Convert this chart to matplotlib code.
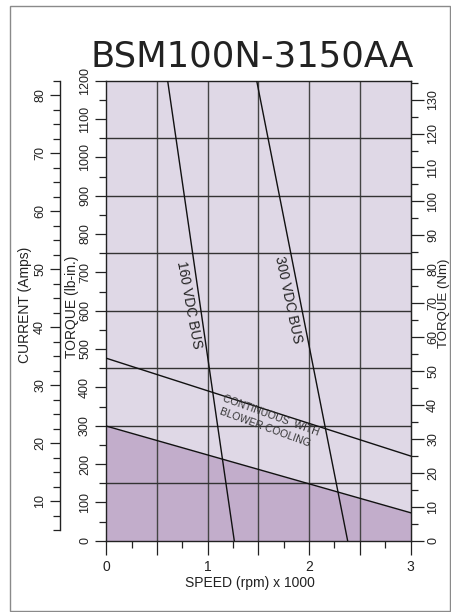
"""
BSM100N-3150AA torque / speed curve
"""
import matplotlib
matplotlib.use('Agg')
import matplotlib.pyplot as plt
import numpy as np
from matplotlib.ticker import FixedLocator, FuncFormatter, MultipleLocator
from matplotlib.patches import Rectangle

plt.rcParams['font.family'] = ['Liberation Sans', 'DejaVu Sans']
plt.rcParams['font.size'] = 9

# data (speed in rpm x 1000, torque in lb-in.)
speed_stall = [0, 3]
torque_stall = [299, 73]
speed_blower = [0, 3]
torque_blower = [476, 221]
speed_160 = [0.605, 1.262]
torque_160 = [1200, 0]
speed_300 = [1.483, 2.38]
torque_300 = [1200, 0]

# axis conversions
LBIN_PER_NM = 8.8507
KT = 15.12        # lb-in per amp on the current scale
I_OFFSET = -47.7  # lb-in at 0 A on the current scale

def lbin_to_nm(t):
    return np.asarray(t) / LBIN_PER_NM

def nm_to_lbin(n):
    return np.asarray(n) * LBIN_PER_NM

def lbin_to_amp(t):
    return (np.asarray(t) - I_OFFSET) / KT

def amp_to_lbin(i):
    return np.asarray(i) * KT + I_OFFSET

W, H = 451, 612
fig = plt.figure(figsize=(W / 100, H / 100), dpi=100)
ax = fig.add_axes([106.3 / W, 1 - 540.7 / H, 304.2 / W, 460 / H])

light = '#dfd8e6'
dark = '#c2adcb'
ink = '#222222'
ax.set_facecolor(light)
ax.set_xlim(0, 3)
ax.set_ylim(0, 1200)

# shaded continuous region
ax.fill_between(speed_stall, 0, torque_stall, color=dark, lw=0, zorder=1)

# grid
for gx in np.arange(0.5, 3, 0.5):
    ax.axvline(gx, color='#444444', lw=1.0, zorder=2)
for gy in np.arange(150, 1200, 150):
    ax.axhline(gy, color='#333333', lw=1.0, zorder=2)

# curves
ax.plot(speed_stall, torque_stall, color='#111111', lw=1.0, zorder=3)
ax.plot(speed_blower, torque_blower, color='#111111', lw=1.0, zorder=3)
ax.plot(speed_160, torque_160, color='#111111', lw=1.0, zorder=3)
ax.plot(speed_300, torque_300, color='#111111', lw=1.0, zorder=3)

ax.text(0.813, 614, '160 VDC BUS', rotation=-79.5, ha='center', va='center',
        fontsize=10, color=ink, zorder=4)
ax.text(1.795, 628, '300 VDC BUS', rotation=-78, ha='center', va='center',
        fontsize=10, color=ink, zorder=4)
ax.text(1.625, 327, 'CONTINUOUS  WITH', rotation=-20, ha='center', va='center',
        fontsize=7.5, color='#333333', zorder=4)
ax.text(1.565, 296, 'BLOWER COOLING', rotation=-20, ha='center', va='center',
        fontsize=7.5, color='#333333', zorder=4)

for s in ax.spines.values():
    s.set_color('#222222')
    s.set_linewidth(1.0)

# x axis
ax.xaxis.set_major_locator(MultipleLocator(0.5))
ax.xaxis.set_minor_locator(MultipleLocator(0.25))
ax.xaxis.set_major_formatter(FuncFormatter(lambda v, p: f'{v:.0f}' if abs(v - round(v)) < 1e-6 else ''))
ax.tick_params(axis='x', which='major', length=10, width=0.9, color=ink, labelsize=10,
               labelcolor=ink, pad=4)
ax.tick_params(axis='x', which='minor', length=5, width=0.9, color=ink)

# torque lb-in. axis
ax.yaxis.set_major_locator(MultipleLocator(100))
ax.yaxis.set_minor_locator(MultipleLocator(50))
ax.tick_params(axis='y', which='major', length=8, width=0.9, color=ink, labelsize=9,
               labelcolor=ink, labelrotation=90, pad=3)
ax.tick_params(axis='y', which='minor', length=5, width=0.9, color=ink)
for lab in ax.get_yticklabels():
    lab.set_va('center')

# current axis
cur = ax.secondary_yaxis((60 - 106.3) / 304.2, functions=(lbin_to_amp, amp_to_lbin))
cur.set_yticks(np.arange(10, 81, 10))
cur.yaxis.set_minor_locator(FixedLocator(np.arange(5, 83, 2.5)))
cur.spines['left'].set_bounds(5, 82.5)
cur.spines['left'].set_color(ink)
cur.spines['left'].set_linewidth(1.0)
cur.tick_params(axis='y', which='major', length=7, width=0.9, color=ink, labelsize=9,
                labelcolor=ink, labelrotation=90, pad=3)
cur.tick_params(axis='y', which='minor', length=5, width=0.9, color=ink)
for lab in cur.get_yticklabels():
    lab.set_va('center')

# torque Nm axis
nm = ax.secondary_yaxis('right', functions=(lbin_to_nm, nm_to_lbin))
nm.set_yticks(np.arange(0, 131, 10))
nm.yaxis.set_minor_locator(FixedLocator(np.arange(5, 136, 10)))
nm.spines['right'].set_color(ink)
nm.tick_params(axis='y', which='major', length=9, width=0.9, color=ink, labelsize=9,
               labelcolor=ink, labelrotation=90, pad=3)
nm.tick_params(axis='y', which='minor', length=5, width=0.9, color=ink)
for lab in nm.get_yticklabels():
    lab.set_va('center')

# titles and axis labels
fig.text(252 / W, 1 - 66.7 / H, 'BSM100N-3150AA', ha='center', va='baseline',
         fontsize=25.5, color=ink, family='DejaVu Sans')
fig.text(250.3 / W, 1 - 583 / H, 'SPEED (rpm) x 1000', ha='center', va='center',
         fontsize=10, color=ink)
fig.text(25 / W, 1 - 305 / H, 'CURRENT (Amps)', rotation=90, ha='center', va='center',
         fontsize=10, color=ink)
fig.text(71.7 / W, 1 - 307 / H, 'TORQUE (lb-in.)', rotation=90, ha='center', va='center',
         fontsize=10, color=ink)
fig.text(444.5 / W, 1 - 303 / H, 'TORQUE (Nm)', rotation=90, ha='center', va='center',
         fontsize=9.5, color=ink)

# outer frame
fig.patches.append(Rectangle((10 / W, 1 - 610.5 / H), 439.5 / W, 604.5 / H,
                             transform=fig.transFigure, fill=False,
                             edgecolor='#8a8a8a', lw=1.0))

fig.savefig('out.png', dpi=100)
